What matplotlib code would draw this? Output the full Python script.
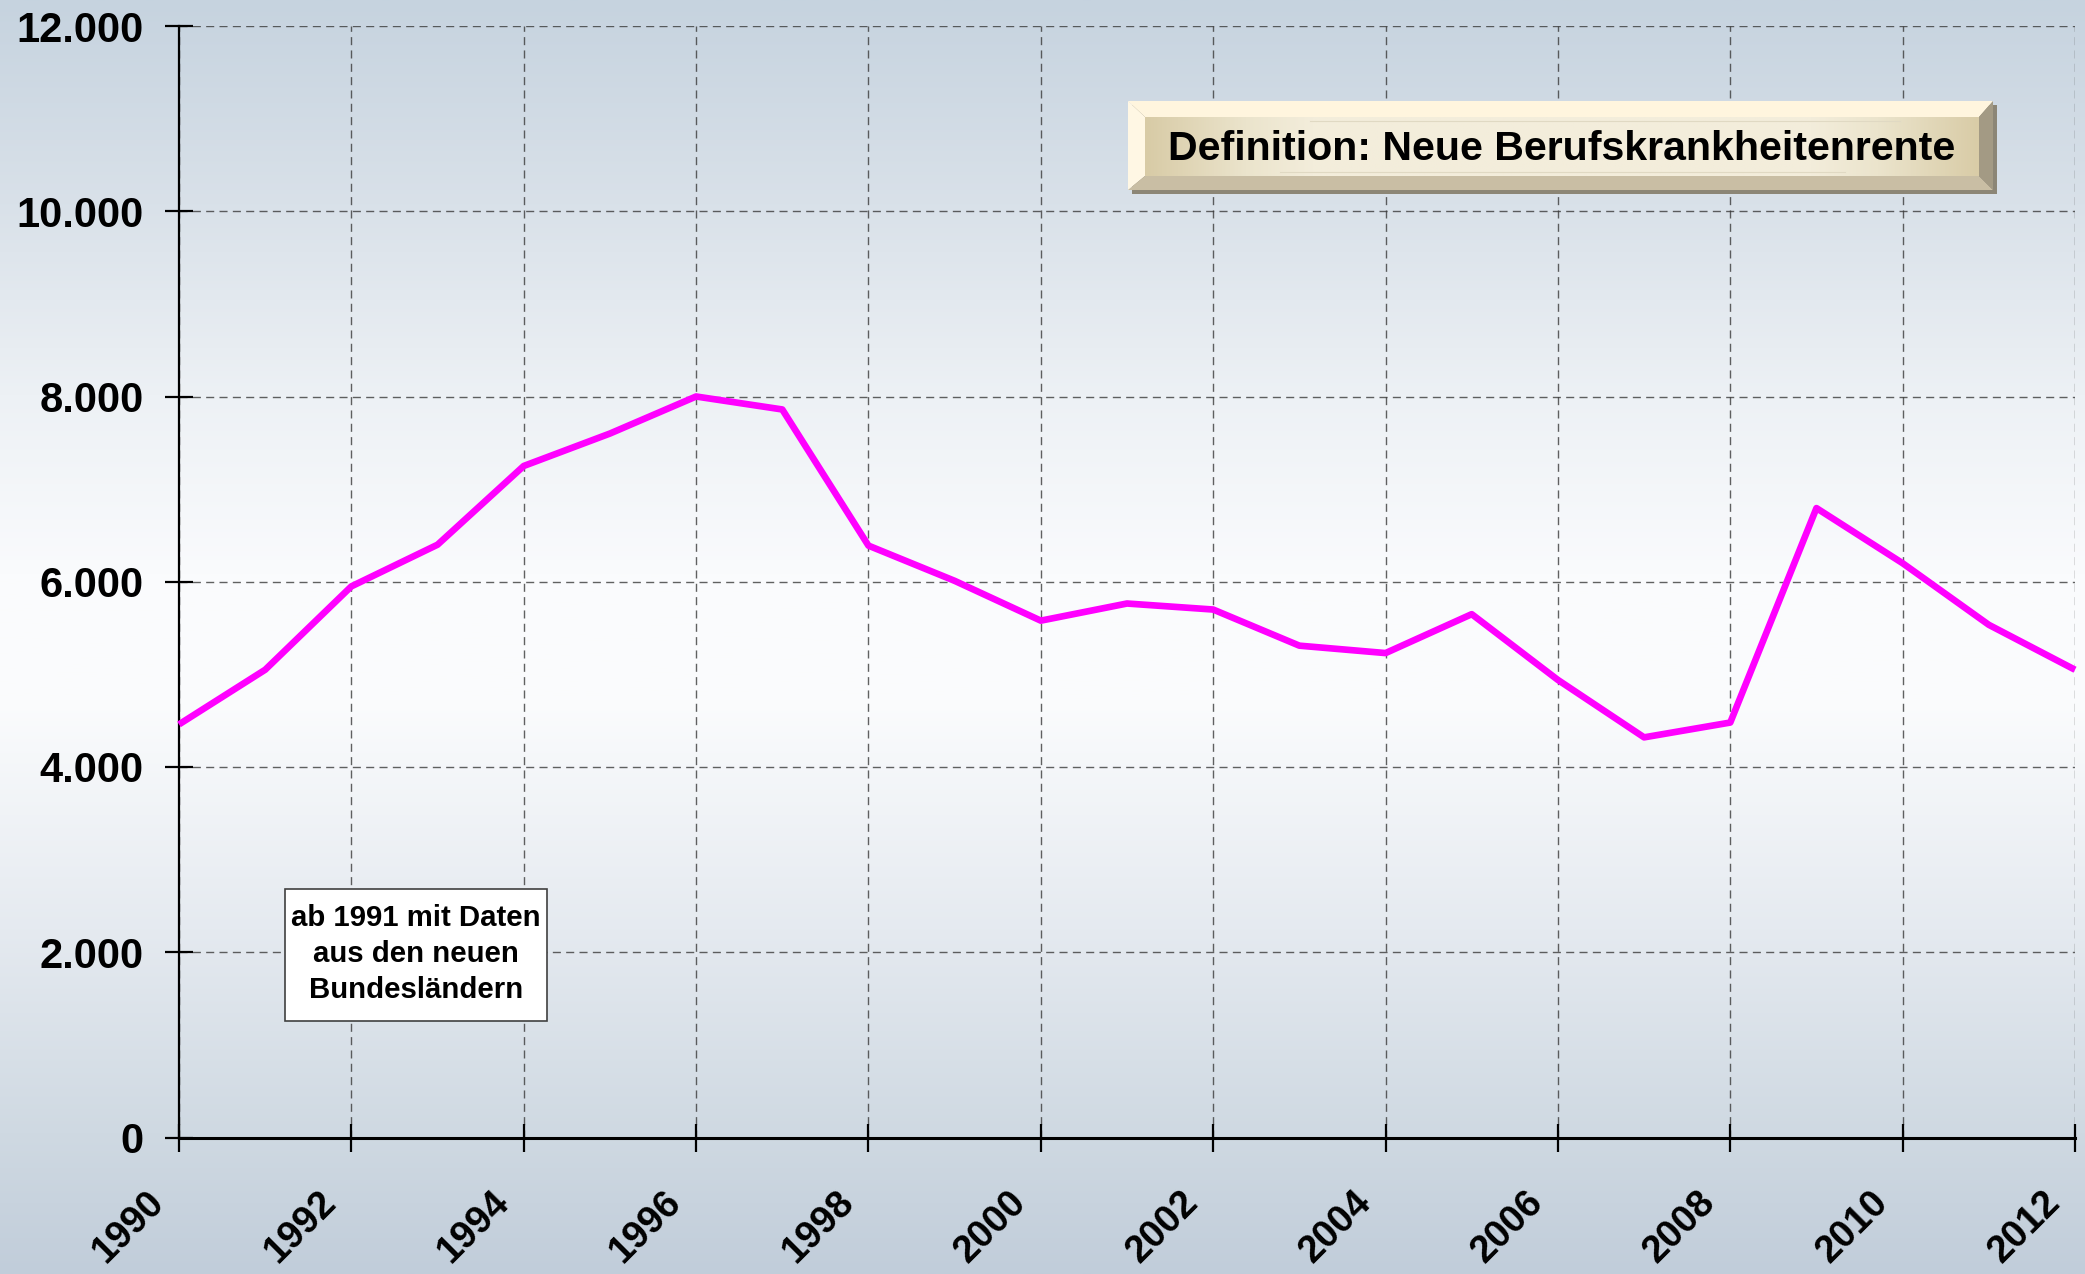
import numpy as np
import matplotlib
matplotlib.use("Agg")
import matplotlib.pyplot as plt
from matplotlib.patches import Polygon, Rectangle
from matplotlib.transforms import ScaledTranslation

# ---- data ----
years = [1990, 1991, 1992, 1993, 1994, 1995, 1996, 1997, 1998, 1999, 2000, 2001,
         2002, 2003, 2004, 2005, 2006, 2007, 2008, 2009, 2010, 2011, 2012]
renten = [4460, 5050, 5950, 6400, 7250, 7600, 8000, 7860, 6390, 6010, 5580, 5765,
          5700, 5310, 5230, 5650, 4940, 4320, 4480, 6795, 6200, 5535, 5050]
xticks = list(range(1990, 2013, 2))
xticklabels = [str(y) for y in xticks]
yticks = [0, 2000, 4000, 6000, 8000, 10000, 12000]
yticklabels = ["0", "2.000", "4.000", "6.000", "8.000", "10.000", "12.000"]
title_text = "Definition: Neue Berufskrankheitenrente"
note_lines = ["ab 1991 mit Daten", "aus den neuen", "Bundesländern"]

plt.rcParams['font.family'] = ['Liberation Sans', 'DejaVu Sans']

W, H = 2085, 1274
fig = plt.figure(figsize=(W / 100, H / 100), dpi=100)

# ---- background gradient ----
bg = fig.add_axes([0, 0, 1, 1], zorder=0)
stops_pos = [0.0, 0.16, 0.31, 0.45, 0.55, 0.73, 0.89, 1.0]
stops_hex = ["#c6d3df", "#d9e1e9", "#edf1f5", "#fafbfd", "#fbfcfd",
             "#e5eaf0", "#cfd9e2", "#c1cdda"]
stops_rgb = np.array([matplotlib.colors.to_rgb(c) for c in stops_hex])
t = np.linspace(0, 1, 600)
grad = np.stack([np.interp(t, stops_pos, stops_rgb[:, k]) for k in range(3)], axis=1)
bg.imshow(grad[:, None, :], aspect='auto', extent=[0, 1, 1, 0], interpolation='bilinear')
bg.set_xlim(0, 1)
bg.set_ylim(1, 0)
bg.axis('off')

# ---- main axes ----
x0, x1 = 179, 2075
y0, y1 = 26, 1137.5
ax = fig.add_axes([x0 / W, 1 - y1 / H, (x1 - x0) / W, (y1 - y0) / H], zorder=1)
ax.patch.set_alpha(0)

ax.plot(years, renten, color='#ff00ff', lw=4.8, solid_joinstyle='round',
        solid_capstyle='butt', zorder=3, clip_on=False)

ax.set_xlim(1990, 2012)
ax.set_ylim(0, 12000)
ax.set_xticks(xticks)
ax.set_xticklabels([])
ax.set_yticks(yticks)
ax.set_yticklabels(yticklabels)

ax.grid(True, color='#3a3a3a', lw=1.0, linestyle=(0, (5.8, 3.8)), alpha=0.8)
ax.set_axisbelow(True)

for s in ['top', 'right']:
    ax.spines[s].set_visible(False)
ax.spines['left'].set_linewidth(1.6)
ax.spines['bottom'].set_linewidth(2.2)

ax.tick_params(axis='y', direction='inout', length=20, width=1.6, pad=15.5,
               labelsize=30, colors='black')
ax.tick_params(axis='x', direction='inout', length=20, width=1.6)
for lab in ax.get_yticklabels():
    lab.set_fontweight('bold')

# x labels: rotated, anchored at their upper-right corner below each tick
xoff = ScaledTranslation(-33 / 100, -47 / 100, fig.dpi_scale_trans)
xtrans = ax.get_xaxis_transform() + xoff
for xv, lab in zip(xticks, xticklabels):
    ax.text(xv, 0, lab, transform=xtrans, rotation=45, rotation_mode='anchor',
            ha='right', va='top', fontsize=27.5, fontweight='bold', color='black',
            clip_on=False)

# ---- overlay (pixel coordinates) for boxes ----
ov = fig.add_axes([0, 0, 1, 1], zorder=3)
ov.axis('off')
ov.patch.set_alpha(0)

ox0, oy0, ox1, oy1 = 1128, 101, 1993, 190
ix0, iy0, ix1, iy1 = 1145, 117, 1979, 176
ov.add_patch(Rectangle((ox0 + 4, oy0 + 4), ox1 - ox0, oy1 - oy0,
                       facecolor='#8c8676', edgecolor='none', zorder=1))
ov.add_patch(Polygon([(ox0, oy0), (ox1, oy0), (ix1, iy0), (ix0, iy0)],
                     closed=True, facecolor='#fff5de', edgecolor='none', zorder=2))
ov.add_patch(Polygon([(ox0, oy0), (ix0, iy0), (ix0, iy1), (ox0, oy1)],
                     closed=True, facecolor='#fff7e4', edgecolor='none', zorder=2))
ov.add_patch(Polygon([(ox0, oy1), (ix0, iy1), (ix1, iy1), (ox1, oy1)],
                     closed=True, facecolor='#c9bea4', edgecolor='none', zorder=2))
ov.add_patch(Polygon([(ox1, oy0), (ox1, oy1), (ix1, iy1), (ix1, iy0)],
                     closed=True, facecolor='#a39a84', edgecolor='none', zorder=2))
fpos = [0.0, 0.12, 0.2, 0.8, 0.88, 1.0]
fhex = ["#d8cba6", "#ebe4cc", "#f3eddb", "#f3eddb", "#ebe4cc", "#d9cca7"]
frgb = np.array([matplotlib.colors.to_rgb(c) for c in fhex])
tf = np.linspace(0, 1, 400)
fgrad = np.stack([np.interp(tf, fpos, frgb[:, k]) for k in range(3)], axis=1)
ov.imshow(fgrad[None, :, :], aspect='auto', extent=[ix0, ix1, iy1, iy0],
          interpolation='bilinear', zorder=3)
ov.plot([1310, 1900], [iy0 + 4, iy0 + 4], color='#e0d9c3', lw=0.8, zorder=4)
ov.plot([1280, 1845], [iy1 - 4, iy1 - 4], color='#e0d9c3', lw=0.8, zorder=4)
ov.text((ix0 + ix1) / 2, 160, title_text, ha='center', va='baseline',
        fontsize=29.6, fontweight='bold', color='black', zorder=5)

ov.add_patch(Rectangle((285, 889), 262, 132, facecolor='white',
                       edgecolor='#404040', lw=1.2, zorder=2))
ov.text(416, 954, "\n".join(note_lines), ha='center', va='center',
        fontsize=21.2, fontweight='bold', color='black', linespacing=1.38, zorder=3)

ov.set_xlim(0, W)
ov.set_ylim(H, 0)

fig.savefig("out.png", dpi=100)
